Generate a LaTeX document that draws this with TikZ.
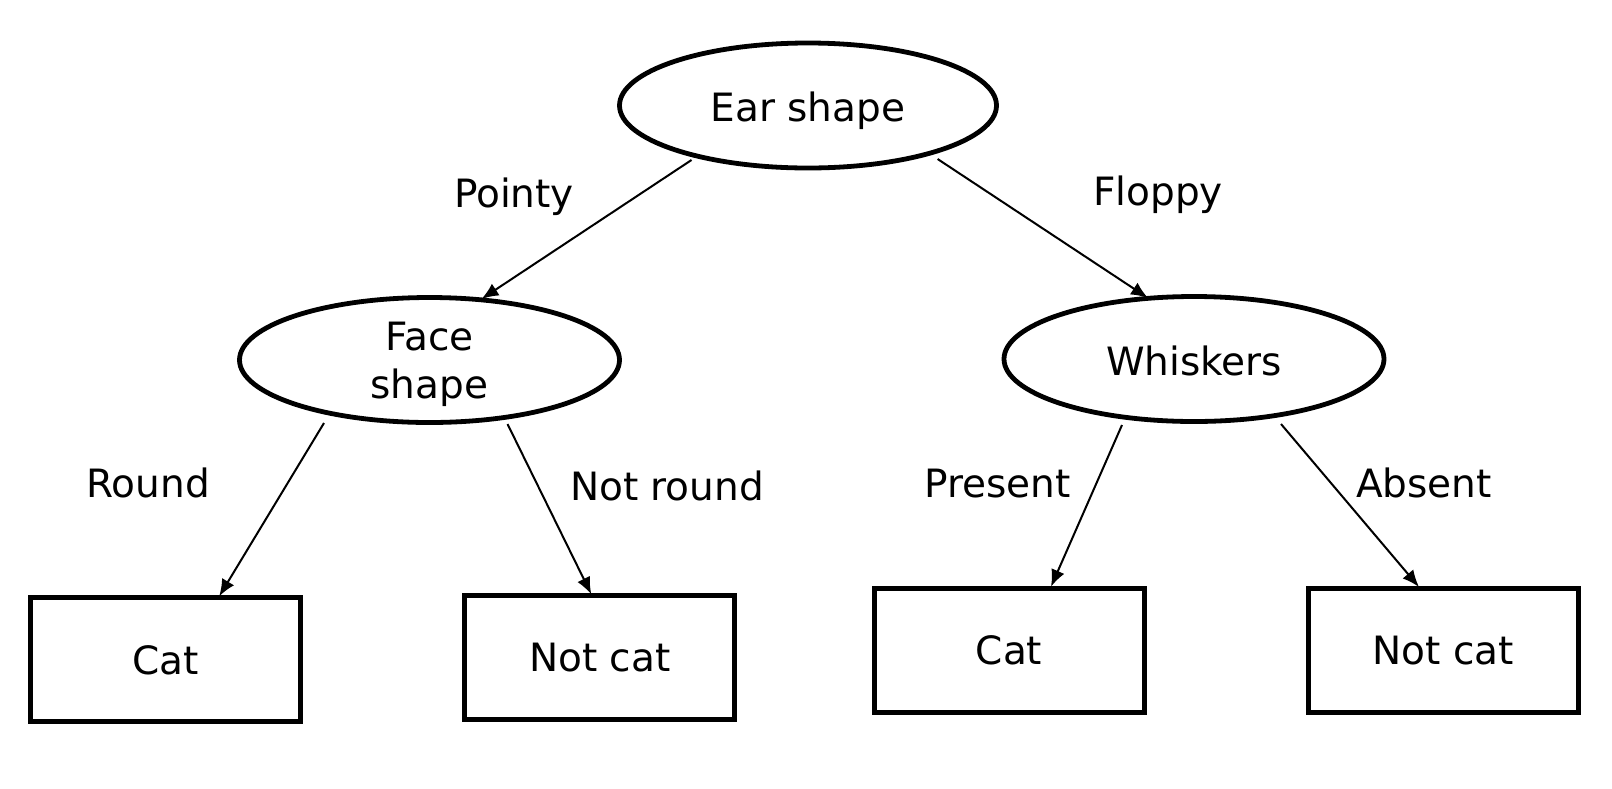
\documentclass[tikz,border=0pt]{standalone}
\usepackage{fontspec}
\setmainfont{DejaVu Sans}
\usetikzlibrary{shapes.geometric,arrows.meta,calc}
\begin{document}
\begin{tikzpicture}[x=1pt,y=-1pt,
  every node/.style={font=\fontsize{39}{48}\selectfont},
  question/.style={ellipse,draw,line width=4.8pt,inner sep=0pt,minimum width=377pt,minimum height=125pt,text depth=0pt,align=center},
  leaf/.style={rectangle,draw,line width=5pt,inner sep=0pt,minimum width=270pt,minimum height=124pt},
  edgelabel/.style={anchor=base,inner sep=0pt},
  conn/.style={line width=2pt,-{Latex[length=17pt,width=14pt]}}]
\useasboundingbox (0,0) rectangle (1612,788);
\fill[white] (0,0) rectangle (1612,788);
% nodes
\node[question,text height=31pt] (ear) at (808,105.5) {Ear shape};
\node[question,minimum width=380pt] (face) at (429.5,360) {Face\\shape};
\node[question,minimum width=380pt,text height=32pt] (whisk) at (1194,359) {Whiskers};
\node[leaf] (cat1) at (165.7,659.8) {Cat};
\node[leaf] (notcat1) at (599.8,657.8) {Not cat};
\node[leaf] (cat2) at (1009,650.2) {Cat};
\node[leaf] (notcat2) at (1443,650.5) {Not cat};
% edge labels
\node[edgelabel] (lpointy) at (514,207) {Pointy};
\node[edgelabel] (lfloppy) at (1158,205) {Floppy};
\node[edgelabel] (lround) at (148,497) {Round};
\node[edgelabel] (lnotround) at (667,500) {Not round};
\node[edgelabel] (lpresent) at (997.5,497) {Present};
\node[edgelabel] (labsent) at (1424,497) {Absent};
% connectors
\draw[conn] ($(ear.center)+(-116.5,54.5)$) -- ($(face.center)+(52,-61)$);
\draw[conn] ($(ear.center)+(129.6,53.5)$) -- ($(whisk.center)+(-46,-61)$);
\draw[conn] ($(face.center)+(-105.5,63)$) -- ($(cat1.north)+(53.5,1)$);
\draw[conn] ($(face.center)+(78,64)$) -- ($(notcat1.north)+(-8.5,1)$);
\draw[conn] ($(whisk.center)+(-72,66)$) -- ($(cat2.north)+(42,1)$);
\draw[conn] ($(whisk.center)+(87,65)$) -- ($(notcat2.north)+(-24,1)$);
\end{tikzpicture}
\end{document}
